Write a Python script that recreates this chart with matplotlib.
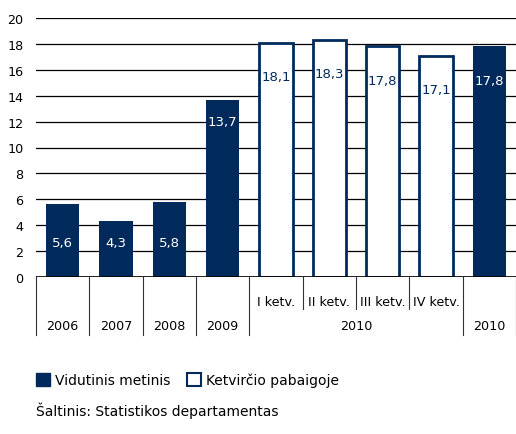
import numpy as np
import matplotlib
matplotlib.use("Agg")
import matplotlib.pyplot as plt
from matplotlib.patches import Patch

# bar values (navy = annual average, white = end of quarter)
values = [5.6, 4.3, 5.8, 13.7, 18.1, 18.3, 17.8, 17.1, 17.8]
filled = [True, True, True, True, False, False, False, False, True]
value_labels = ["5,6", "4,3", "5,8", "13,7", "18,1", "18,3", "17,8", "17,1", "17,8"]
quarter_labels = ["I ketv.", "II ketv.", "III ketv.", "IV ketv."]
year_labels = ["2006", "2007", "2008", "2009", "2010", "2010"]
year_spans = [(0, 1), (1, 2), (2, 3), (3, 4), (4, 8), (8, 9)]

navy = "#002A5C"
plt.rcParams["font.family"] = "DejaVu Sans"
fs = 9.2
fs_big = 10

fig = plt.figure(figsize=(5.16, 4.35), dpi=100)
ax = fig.add_axes([36 / 516, 1 - 278 / 435, 1 - 36 / 516, 259 / 435])

x = np.arange(len(values)) + 0.5
for xi, v, f in zip(x, values, filled):
    if f:
        ax.bar(xi, v, width=0.63, color=navy, zorder=3)
    else:
        ax.bar(xi, v, width=0.63, color="white", edgecolor=navy, linewidth=2, zorder=3)

v = np.array(values)
lab_y = np.where(v > 15, v - 2.6, np.where(v > 10, v - 1.7, 2.7))
for xi, ly, t, f in zip(x, lab_y, value_labels, filled):
    ax.text(xi, ly, t, ha="center", va="center", fontsize=fs + 0.3,
            color="white" if f else navy, zorder=4)

ax.set_xlim(0, 9)
ax.set_ylim(0, 20)
ax.set_yticks(np.arange(0, 21, 2))
ax.tick_params(axis="y", length=0, labelsize=fs, pad=9)
ax.set_xticks([])
ax.yaxis.grid(True, color="black", linewidth=0.9, zorder=0)
for s in ax.spines.values():
    s.set_visible(False)
ax.axhline(0, color="black", linewidth=1.2, zorder=5)

# category dividers below axis
tr = ax.get_xaxis_transform()
for b in range(0, 10):
    y_end = -0.124 if b in (5, 6, 7) else -0.224
    ax.plot([b, b], [0, y_end], transform=tr, color="#333333",
            linewidth=0.8, clip_on=False)
for i, t in enumerate(quarter_labels):
    ax.text(4.5 + i, -0.093, t, transform=tr, ha="center", va="center", fontsize=fs)
for (a, b), t in zip(year_spans, year_labels):
    ax.text((a + b) / 2, -0.189, t, transform=tr, ha="center", va="center", fontsize=fs)

handles = [Patch(facecolor=navy, edgecolor=navy),
           Patch(facecolor="white", edgecolor=navy, linewidth=1.5)]
fig.legend(handles, ["Vidutinis metinis", "Ketvirčio pabaigoje"],
           loc="center left", bbox_to_anchor=(36 / 516, 1 - 381 / 435),
           borderpad=0, borderaxespad=0,
           ncol=2, frameon=False, fontsize=fs_big, handlelength=1.0, handleheight=1.0,
           handletextpad=0.35, columnspacing=1.2)

fig.text(36 / 516, 1 - 411 / 435, "Šaltinis: Statistikos departamentas",
         fontsize=fs_big, va="center", ha="left")

fig.savefig("out.png", dpi=100)
